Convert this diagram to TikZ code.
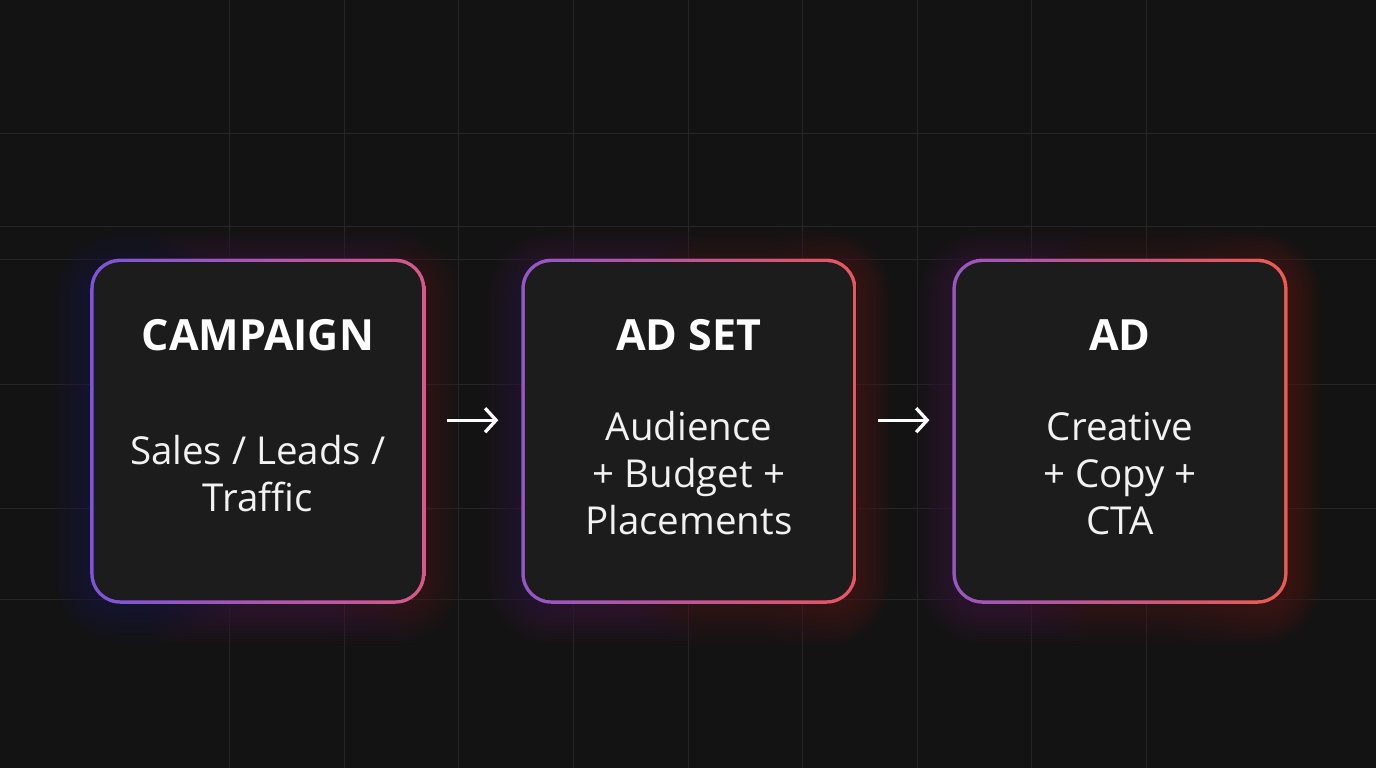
\documentclass[tikz,border=0pt]{standalone}
\usepackage{fontspec}
\setmainfont{Open Sans}
\usetikzlibrary{positioning,arrows.meta,backgrounds}
\definecolor{bgdark}{HTML}{131313}
\definecolor{gridline}{HTML}{262626}
\definecolor{cardfill}{HTML}{1C1C1C}
\definecolor{bodytext}{HTML}{F2F2F2}
\definecolor{violetA}{HTML}{7B55D9}
\definecolor{pinkA}{HTML}{D8588A}
\definecolor{violetB}{HTML}{9456C9}
\definecolor{redB}{HTML}{E9565E}
\definecolor{violetC}{HTML}{9A56C2}
\definecolor{redC}{HTML}{EF5A4E}
\tikzset{%
  >={Straight Barb[length=11pt,width=24pt]},
  % Specifications for style of nodes:
       card/.style = {rectangle, minimum width=335pt, minimum height=345pt,
                      inner sep=0pt},
  cardtitle/.style = {font=\bfseries\fontsize{43}{48}\selectfont, text=white},
   cardbody/.style = {align=center, text=bodytext,
                      font=\fontsize{38.5}{47}\selectfont},
       flow/.style = {->, white, line width=3.3pt, shorten <=22pt, shorten >=23pt},
}
% glow, gradient border and fill behind a card
\newcommand\cardframe[3]{%
  \begin{scope}[on background layer]
    \foreach \g in {1,...,22}{
      \pgfmathsetmacro\rr{30+1.6*\g}
      \fill[left color=#2, right color=#3, fill opacity=0.014, rounded corners=\rr pt]
        ([shift={(-1.6*\g pt,-1.6*\g pt-7pt)}]#1.south west) rectangle
        ([shift={(1.6*\g pt,1.6*\g pt-7pt)}]#1.north east);
    }
    \fill[left color=#2, right color=#3, rounded corners=30pt]
      (#1.south west) rectangle (#1.north east);
    \fill[cardfill, rounded corners=26.5pt]
      ([shift={(3.5pt,3.5pt)}]#1.south west) rectangle ([shift={(-3.5pt,-3.5pt)}]#1.north east);
  \end{scope}}

\begin{document}
\begin{tikzpicture}[x=1pt, y=1pt, node distance=96pt]
  \begin{scope}[on background layer]
    \fill[bgdark] (0,0) rectangle (1376,768);
    \foreach \i in {2,...,10}
      \draw[gridline, line width=1pt] (\i*114.667,0) -- (\i*114.667,768);
    \foreach \y in {635,542,509,384,260,169}
      \draw[gridline, line width=1pt] (0,\y) -- (1376,\y);
  \end{scope}

  \node (campaign) [card] at (257.5,337) {};
  \node (adset)    [card, right=of campaign] {};
  \node (ad)       [card, right=of adset] {};

  \node (campaignTitle) [cardtitle] at ([yshift=96pt]campaign.center) {CAMPAIGN};
  \node (adsetTitle)    [cardtitle] at ([yshift=96pt]adset.center)    {AD SET};
  \node (adTitle)       [cardtitle] at ([yshift=96pt]ad.center)       {AD};

  \node (campaignBody) [cardbody] at ([yshift=-42pt]campaign.center) {Sales / Leads /\\Traffic};
  \node (adsetBody)    [cardbody] at ([yshift=-42pt]adset.center)    {Audience\\+ Budget +\\Placements};
  \node (adBody)       [cardbody] at ([yshift=-42pt]ad.center)       {Creative\\+ Copy +\\CTA};

  \cardframe{campaign}{violetA}{pinkA}
  \cardframe{adset}{violetB}{redB}
  \cardframe{ad}{violetC}{redC}

  \draw[flow] ([yshift=11pt]campaign.east) -- ([yshift=11pt]adset.west);
  \draw[flow] ([yshift=11pt]adset.east) -- ([yshift=11pt]ad.west);
\end{tikzpicture}
\end{document}
